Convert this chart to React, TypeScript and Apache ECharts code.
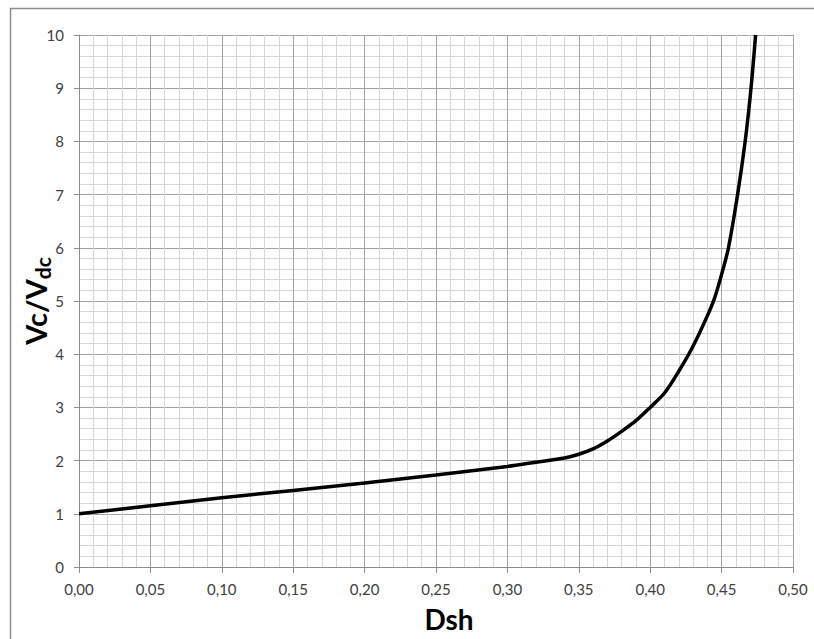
import React, { useEffect, useRef } from "react";
import * as echarts from "echarts";

const dsh = [0, 0.05, 0.1, 0.15, 0.2, 0.25, 0.3, 0.32, 0.34, 0.35, 0.36, 0.37, 0.38, 0.39, 0.4, 0.41, 0.42, 0.43, 0.44, 0.445, 0.45, 0.4548, 0.4612, 0.4665, 0.4706, 0.4738];
const ratio = [1.0, 1.15, 1.3, 1.44, 1.58, 1.73, 1.89, 1.97, 2.05, 2.12, 2.22, 2.37, 2.55, 2.75, 3.0, 3.27, 3.68, 4.15, 4.72, 5.05, 5.5, 6.0, 7.0, 8.0, 9.0, 10.0];
const xTitle = "Dsh";
const yTitleMain = "Vc/V";
const yTitleSub = "dc";

const FONT = "Lato, 'Noto Sans', sans-serif";

export default function App() {
  const ref = useRef<HTMLDivElement>(null);
  useEffect(() => {
    if (!ref.current) return;
    const chart = echarts.init(ref.current, undefined, { renderer: "svg" });
    const majorLine = { color: "#a3a3a3", width: 1 };
    const minorLine = { color: "#d6d6d6", width: 1 };
    chart.setOption({
      animation: false,
      backgroundColor: "#ffffff",
      grid: { left: 79, top: 35, right: 21, bottom: 72, containLabel: false },
      xAxis: {
        type: "value",
        min: 0,
        max: 0.5,
        interval: 0.05,
        axisLine: { show: true, lineStyle: { color: "#8c8c8c", width: 1 } },
        axisTick: { show: true, length: 6, lineStyle: { color: "#8c8c8c" } },
        axisLabel: {
          color: "#404040",
          fontSize: 15,
          fontFamily: FONT,
          margin: 14,
          formatter: (v: number) => v.toFixed(2).replace(".", ","),
        },
        splitLine: { show: true, lineStyle: majorLine },
        minorTick: { show: false, splitNumber: 5 },
        minorSplitLine: { show: true, lineStyle: minorLine },
      },
      yAxis: {
        type: "value",
        min: 0,
        max: 10,
        interval: 1,
        axisLine: { show: true, lineStyle: { color: "#8c8c8c", width: 1 } },
        axisTick: { show: true, length: 5, lineStyle: { color: "#8c8c8c" } },
        axisLabel: {
          color: "#404040",
          fontSize: 15,
          fontFamily: FONT,
          margin: 15,
        },
        splitLine: { show: true, lineStyle: majorLine },
        minorTick: { show: false, splitNumber: 5 },
        minorSplitLine: { show: true, lineStyle: minorLine },
      },
      series: [
        {
          type: "line",
          data: dsh.map((x, i) => [x, ratio[i]]),
          smooth: 0.3,
          showSymbol: false,
          symbol: "none",
          lineStyle: { color: "#000000", width: 3.5 },
          z: 5,
        },
      ],
      graphic: [
        {
          type: "rect",
          shape: { x: 10.5, y: 8.5, width: 900, height: 800 },
          style: { fill: "none", stroke: "#8c8c8c", lineWidth: 1.5 },
          silent: true,
        },
        {
          type: "text",
          x: 449,
          y: 619,
          style: {
            text: xTitle,
            fontSize: 28,
            fontWeight: "bold",
            fontFamily: FONT,
            fill: "#000000",
            align: "center",
            verticalAlign: "middle",
          },
        },
        {
          type: "text",
          x: 35,
          y: 301,
          rotation: Math.PI / 2,
          style: {
            text: "{a|" + yTitleMain + "}{b|" + yTitleSub + "}",
            align: "center",
            verticalAlign: "middle",
            rich: {
              a: { fontSize: 29, fontWeight: "bold", fontFamily: FONT, fill: "#000000", verticalAlign: "bottom" },
              b: { fontSize: 21, fontWeight: "bold", fontFamily: FONT, fill: "#000000", verticalAlign: "bottom", padding: [0, 0, -3, 0] },
            },
          },
        },
      ],
    });
    return () => chart.dispose();
  }, []);
  return (
    <div
      ref={ref}
      style={{ position: "absolute", left: 0, top: 0, width: 814, height: 639, background: "#fff" }}
    />
  );
}
